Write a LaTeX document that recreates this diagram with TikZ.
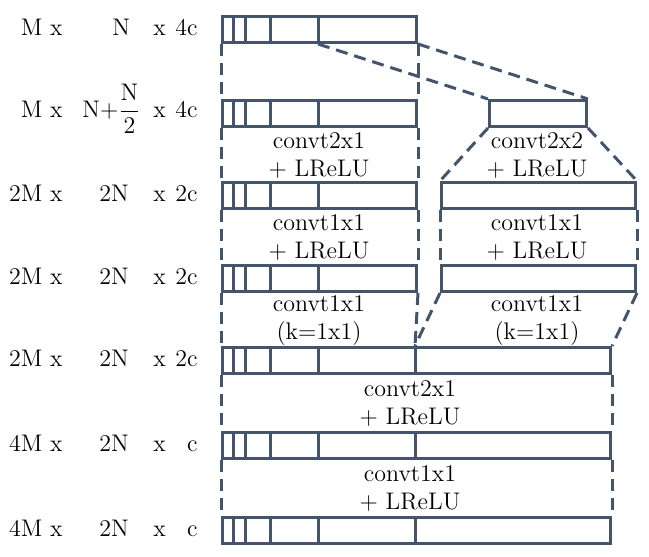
\documentclass[tikz,border=0pt]{standalone}
\usetikzlibrary{calc}
\definecolor{barc}{HTML}{44546A}
\tikzset{
  x=0.5pt, y=-0.5pt,
  barbox/.style={draw=barc, line width=1.5pt, rectangle, inner sep=0pt, minimum height=13pt, anchor=north west},
  barline/.style={draw=barc, line width=1.5pt},
  dsh/.style={draw=barc, line width=1.5pt, dash pattern=on 6pt off 3.5pt},
  lbl/.style={font=\fontsize{12}{14}\selectfont, inner sep=0pt},
  conv/.style={font=\fontsize{12}{14}\selectfont, inner sep=0pt, align=center},
}
\newcommand{\mybar}[5]{%
  \node[barbox, minimum width=#4*0.5pt] (#1) at (#2,#3) {};
  \foreach \d in {#5} \draw[barline] ($(#1.north west)+(\d,0)$) -- ($(#1.south west)+(\d,0)$);
}
\begin{document}
\begin{tikzpicture}
\useasboundingbox (0,0) rectangle (649,557);
% bars
\mybar{r1}{221}{15}{194}{12,24,49,97}
\mybar{r2}{221}{99}{194}{12,24,49,97}
\node[barbox, minimum width=97*0.5pt] (r2b) at (488,99) {};
\mybar{r3}{221}{181}{194}{12,24,49,97}
\node[barbox, minimum width=194*0.5pt] (r3b) at (440,181) {};
\mybar{r4}{221}{264}{194}{12,24,49,97}
\node[barbox, minimum width=194*0.5pt] (r4b) at (440,264) {};
\mybar{r5}{221}{346}{388}{12,24,49,97,194}
\mybar{r6}{221}{431}{388}{12,24,49,97,194}
\mybar{r7}{221}{516}{388}{12,24,49,97,194}
\coordinate (r1d) at ($(r1.south west)+(97,0)$);
\coordinate (r5m) at ($(r5.north west)+(194,0)$);
% dashed connectors, left column
\draw[dsh] (r1.south west) -- (r2.north west);
\draw[dsh] (r2.south west) -- (r3.north west);
\draw[dsh] (r3.south west) -- (r4.north west);
\draw[dsh] (r4.south west) -- (r5.north west);
\draw[dsh] (r5.south west) -- (r6.north west);
\draw[dsh] (r6.south west) -- (r7.north west);
\draw[dsh] (r1.south east) -- (r2.north east);
\draw[dsh] (r2.south east) -- (r3.north east);
\draw[dsh] (r3.south east) -- (r4.north east);
\draw[dsh] (r4.south east) -- (r5m);
% branch
\draw[dsh] (r1d) -- (r2b.north west);
\draw[dsh] (r1.south east) -- (r2b.north east);
\draw[dsh] (r2b.south west) -- (r3b.north west);
\draw[dsh] (r2b.south east) -- (r3b.north east);
\draw[dsh] (r3b.south west) -- (r4b.north west);
\draw[dsh] (r3b.south east) -- (r4b.north east);
\draw[dsh] (r4b.south west) -- (r5m);
\draw[dsh] (r4b.south east) -- (r5.north east);
\draw[dsh] (r5.south east) -- (r6.north east);
\draw[dsh] (r6.south east) -- (r7.north east);
% left labels
\node[lbl, anchor=base east] (a1) at (63,35.5) {M x};
\node[lbl, anchor=base west] (b1) at (112,35.5) {N};
\node[lbl, anchor=base west] (x1) at (153,35.5) {x};
\node[lbl, anchor=base east] (d1) at (198,35.5) {4c};
\node[lbl, anchor=base east] (a2) at (63,117) {M x};
\node[lbl, anchor=base west] (b2) at (82,117) {N+$\displaystyle\frac{\mathrm{N}}{2}$};
\node[lbl, anchor=base west] (x2) at (153,117) {x};
\node[lbl, anchor=base east] (d2) at (198,117) {4c};
\node[lbl, anchor=base east] (a3) at (63,201) {2M x};
\node[lbl, anchor=base west] (b3) at (99,201) {2N};
\node[lbl, anchor=base west] (x3) at (153,201) {x};
\node[lbl, anchor=base east] (d3) at (198,201) {2c};
\node[lbl, anchor=base east] (a4) at (63,284) {2M x};
\node[lbl, anchor=base west] (b4) at (99,284) {2N};
\node[lbl, anchor=base west] (x4) at (153,284) {x};
\node[lbl, anchor=base east] (d4) at (198,284) {2c};
\node[lbl, anchor=base east] (a5) at (63,366.5) {2M x};
\node[lbl, anchor=base west] (b5) at (99,366.5) {2N};
\node[lbl, anchor=base west] (x5) at (153,366.5) {x};
\node[lbl, anchor=base east] (d5) at (198,366.5) {2c};
\node[lbl, anchor=base east] (a6) at (63,451.5) {4M x};
\node[lbl, anchor=base west] (b6) at (99,451.5) {2N};
\node[lbl, anchor=base west] (x6) at (153,451.5) {x};
\node[lbl, anchor=base east] (d6) at (198,451.5) {c};
\node[lbl, anchor=base east] (a7) at (63,536) {4M x};
\node[lbl, anchor=base west] (b7) at (99,536) {2N};
\node[lbl, anchor=base west] (x7) at (153,536) {x};
\node[lbl, anchor=base east] (d7) at (198,536) {c};
% operation labels
\node[conv] (c1) at (319,155) {convt2x1\\+ LReLU};
\node[conv] (c1b) at (537,155) {convt2x2\\+ LReLU};
\node[conv] (c2) at (319,237) {convt1x1\\+ LReLU};
\node[conv] (c2b) at (537,237) {convt1x1\\+ LReLU};
\node[conv] (c3) at (319,321) {convt1x1\\(k=1x1)};
\node[conv] (c3b) at (537,321) {convt1x1\\(k=1x1)};
\node[conv] (c4) at (410,403) {convt2x1\\+ LReLU};
\node[conv] (c5) at (410,488) {convt1x1\\+ LReLU};
\end{tikzpicture}
\end{document}
